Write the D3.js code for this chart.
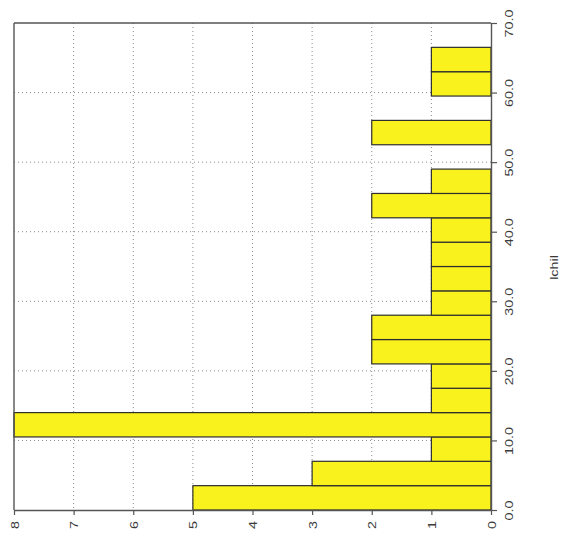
<!DOCTYPE html>
<html>
<head>
<meta charset="utf-8">
<script src="https://cdn.jsdelivr.net/npm/d3@7"></script>
<style>
  html, body { margin: 0; padding: 0; background: #ffffff; }
  svg { display: block; }
</style>
</head>
<body>
<svg id="chart" width="575" height="544"></svg>
<script>
// ---- data ----
const binStart = [0, 3.5, 7, 10.5, 14, 17.5, 21, 24.5, 28, 31.5, 35, 38.5, 42, 45.5, 49, 52.5, 56, 59.5, 63];
const binEnd   = [3.5, 7, 10.5, 14, 17.5, 21, 24.5, 28, 31.5, 35, 38.5, 42, 45.5, 49, 52.5, 56, 59.5, 63, 66.5];
const counts   = [5, 3, 1, 8, 1, 1, 2, 2, 1, 1, 1, 1, 2, 1, 0, 2, 0, 1, 1];
const countTicks = [0, 1, 2, 3, 4, 5, 6, 7, 8];
const lchilTicks = [0, 10, 20, 30, 40, 50, 60, 70];
const lchilGrid  = [10, 20, 30, 40, 50, 60];
const countGrid  = [1, 2, 3, 4, 5, 6, 7];
const axisTitle = "lchil";

// ---- layout ----
const svg = d3.select("#chart");
const x = d3.scaleLinear().domain([0, 8]).range([491, 14]);     // counts, right-to-left
const y = d3.scaleLinear().domain([0, 70]).range([510, 23]);    // lchil, bottom-to-top

const FONT = "'Liberation Sans', Arial, Helvetica, sans-serif";
const textColor = "#3a3a3a";
const frameColor = "#555555";

// grid
svg.append("g").selectAll("line.v").data(countGrid).join("line")
  .attr("x1", d => x(d)).attr("x2", d => x(d))
  .attr("y1", y(70)).attr("y2", y(0))
  .attr("stroke", "#8a8a8a").attr("stroke-width", 1)
  .attr("stroke-dasharray", "1,3");
svg.append("g").selectAll("line.h").data(lchilGrid).join("line")
  .attr("x1", x(8)).attr("x2", x(0))
  .attr("y1", d => y(d)).attr("y2", d => y(d))
  .attr("stroke", "#8a8a8a").attr("stroke-width", 1)
  .attr("stroke-dasharray", "1,3");

// bars
const bins = counts.map((c, i) => ({ c, s: binStart[i], e: binEnd[i] })).filter(b => b.c > 0);
svg.append("g").selectAll("rect").data(bins).join("rect")
  .attr("x", d => x(d.c))
  .attr("y", d => y(d.e))
  .attr("width", d => x(0) - x(d.c))
  .attr("height", d => y(d.s) - y(d.e))
  .attr("fill", "#f9f21c")
  .attr("stroke", "#2f2f2f")
  .attr("stroke-width", 1.2);

// frame (top and left)
svg.append("line").attr("x1", x(8)).attr("x2", x(0)).attr("y1", y(70)).attr("y2", y(70))
  .attr("stroke", frameColor).attr("stroke-width", 1.4);
svg.append("line").attr("x1", x(8)).attr("x2", x(8)).attr("y1", y(70)).attr("y2", y(0))
  .attr("stroke", frameColor).attr("stroke-width", 1.4);

// right axis (lchil)
const rAxis = svg.append("g").attr("transform", `translate(${x(0)},0)`)
  .call(d3.axisRight(y).tickValues(lchilTicks).tickFormat(d3.format(".1f")).tickSize(6).tickSizeOuter(0));
rAxis.select(".domain").attr("stroke", frameColor).attr("stroke-width", 1.4);
rAxis.selectAll(".tick line").attr("stroke", frameColor).attr("stroke-width", 1.2);
rAxis.selectAll(".tick text")
  .attr("x", null).attr("dy", null)
  .attr("transform", "translate(18,0) rotate(-90) scale(1.25,1)")
  .attr("text-anchor", "middle")
  .attr("dy", "0.35em")
  .attr("fill", textColor)
  .style("font-family", FONT).style("font-size", "11.5px");

// bottom axis (counts)
const bAxis = svg.append("g").attr("transform", `translate(0,${y(0)})`)
  .call(d3.axisBottom(x).tickValues(countTicks).tickFormat(d3.format("d")).tickSize(5).tickSizeOuter(0));
bAxis.select(".domain").attr("stroke", frameColor).attr("stroke-width", 1.4);
bAxis.selectAll(".tick line").attr("stroke", frameColor).attr("stroke-width", 1.2);
bAxis.selectAll(".tick text")
  .attr("y", null).attr("dy", null)
  .attr("transform", "translate(0,11) rotate(-90) scale(1.25,1)")
  .attr("text-anchor", "end")
  .attr("dy", "0.35em")
  .attr("fill", textColor)
  .style("font-family", FONT).style("font-size", "11.5px");

// axis title
svg.append("text")
  .attr("transform", `translate(554,${(y(0) + y(70)) / 2 + 1}) rotate(-90) scale(1.25,1)`)
  .attr("text-anchor", "middle")
  .attr("dy", "0.35em")
  .attr("fill", textColor)
  .style("font-family", FONT).style("font-size", "11.5px")
  .text(axisTitle);
</script>
</body>
</html>
